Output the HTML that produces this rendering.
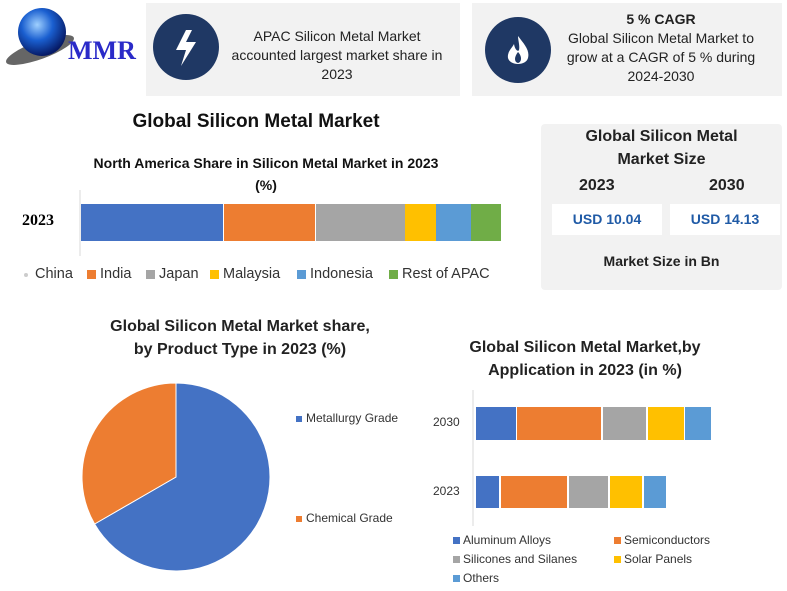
<!DOCTYPE html><html><head><style>
body{margin:0;width:787px;height:591px;background:#fff;font-family:"Liberation Sans",sans-serif;position:relative;overflow:hidden}
.a{position:absolute}
.c{text-align:center}
.b{font-weight:bold}
.lg{position:absolute;top:266px;font-size:14.5px;color:#333}
</style></head><body>
<svg class="a" style="left:0;top:0" width="787" height="591">
<defs><radialGradient id="g" cx="40%" cy="35%" r="65%"><stop offset="0" stop-color="#9fd0ff"/><stop offset=".5" stop-color="#1a5fd0"/><stop offset="1" stop-color="#061a66"/></radialGradient></defs>
<ellipse cx="40" cy="50" rx="36" ry="9" fill="#666" transform="rotate(-20 40 50)"/>
<circle cx="42" cy="32" r="24" fill="url(#g)"/>
<text x="68" y="59" font-family="Liberation Serif" font-weight="bold" font-size="26" fill="#2a2ac8">MMR</text>
<rect x="146" y="3" width="314" height="93" fill="#f2f2f2"/>
<rect x="472" y="3" width="310" height="93" fill="#f2f2f2"/>
<circle cx="186" cy="47" r="33" fill="#1f3864"/>
<path d="M186 30 L176 50 L186 50 L181 66 L196 42 L186 42 L192 30Z" fill="#fff"/>
<circle cx="518" cy="50" r="33" fill="#1f3864"/>
<path d="M518 36 C524 44 530 50 528 58 C526 66 510 66 508 58 C507 52 512 48 514 44 C515 50 518 52 519 50 C520 46 518 40 518 36Z" fill="#fff"/>
<path d="M518 52 C522 56 522 62 518 63 C514 62 514 57 518 52Z" fill="#1f3864"/>
<rect x="541" y="124" width="241" height="166" rx="4" fill="#f2f2f2"/>
<rect x="552" y="204" width="110" height="31" fill="#fff"/>
<rect x="670" y="204" width="110" height="31" fill="#fff"/>
<line x1="80" y1="190" x2="80" y2="256" stroke="#d9d9d9"/>
<rect x="81" y="204" width="142" height="37" fill="#4472c4"/>
<rect x="224" y="204" width="91" height="37" fill="#ed7d31"/>
<rect x="316" y="204" width="89" height="37" fill="#a5a5a5"/>
<rect x="405" y="204" width="31" height="37" fill="#ffc000"/>
<rect x="436" y="204" width="35" height="37" fill="#5b9bd5"/>
<rect x="471" y="204" width="30" height="37" fill="#70ad47"/>
<circle cx="26" cy="275" r="2" fill="#ccc"/>
<rect x="87" y="270" width="9" height="9" fill="#ed7d31"/>
<rect x="146" y="270" width="9" height="9" fill="#a5a5a5"/>
<rect x="210" y="270" width="9" height="9" fill="#ffc000"/>
<rect x="297" y="270" width="9" height="9" fill="#5b9bd5"/>
<rect x="389" y="270" width="9" height="9" fill="#70ad47"/>
<path d="M176 477 L176 383 A94 94 0 1 1 94.6 524 Z" fill="#4472c4" stroke="#fff"/>
<path d="M176 477 L94.6 524 A94 94 0 0 1 176 383 Z" fill="#ed7d31" stroke="#fff"/>
<rect x="296" y="416" width="6" height="6" fill="#4472c4"/>
<rect x="296" y="516" width="6" height="6" fill="#ed7d31"/>
<line x1="473" y1="390" x2="473" y2="526" stroke="#d9d9d9"/>
<rect x="476" y="407" width="40" height="33" fill="#4472c4"/>
<rect x="517" y="407" width="84" height="33" fill="#ed7d31"/>
<rect x="603" y="407" width="43" height="33" fill="#a5a5a5"/>
<rect x="648" y="407" width="36" height="33" fill="#ffc000"/>
<rect x="685" y="407" width="26" height="33" fill="#5b9bd5"/>
<rect x="476" y="476" width="23" height="32" fill="#4472c4"/>
<rect x="501" y="476" width="66" height="32" fill="#ed7d31"/>
<rect x="569" y="476" width="39" height="32" fill="#a5a5a5"/>
<rect x="610" y="476" width="32" height="32" fill="#ffc000"/>
<rect x="644" y="476" width="22" height="32" fill="#5b9bd5"/>
<rect x="453" y="537" width="7" height="7" fill="#4472c4"/>
<rect x="614" y="537" width="7" height="7" fill="#ed7d31"/>
<rect x="453" y="556" width="7" height="7" fill="#a5a5a5"/>
<rect x="614" y="556" width="7" height="7" fill="#ffc000"/>
<rect x="453" y="575" width="7" height="7" fill="#5b9bd5"/>
</svg>
<div class="a c" style="left:222px;top:27px;width:230px;font-size:14px;line-height:19px;color:#222">APAC Silicon Metal Market accounted largest market share in 2023</div>
<div class="a c" style="left:556px;top:10px;width:210px;font-size:14px;line-height:19px;color:#222"><b>5 % CAGR</b><br>Global Silicon Metal Market to grow at a CAGR of 5 % during 2024-2030</div>
<div class="a c b" style="left:100px;top:111px;width:312px;font-size:19px;color:#111">Global Silicon Metal Market</div>
<div class="a c b" style="left:66px;top:152px;width:400px;font-size:14px;line-height:22px;color:#111">North America Share in Silicon Metal Market in 2023<br>(%)</div>
<div class="a b" style="left:22px;top:212px;font-size:16px;font-family:'Liberation Serif',serif">2023</div>
<div class="lg" style="left:35px">China</div>
<div class="lg" style="left:100px">India</div>
<div class="lg" style="left:159px">Japan</div>
<div class="lg" style="left:223px">Malaysia</div>
<div class="lg" style="left:310px">Indonesia</div>
<div class="lg" style="left:402px">Rest of APAC</div>
<div class="a c b" style="left:541px;top:125px;width:241px;font-size:16px;line-height:23px;color:#222">Global Silicon Metal<br>Market Size</div>
<div class="a b" style="left:579px;top:177px;font-size:16px;color:#222">2023</div>
<div class="a b" style="left:709px;top:177px;font-size:16px;color:#222">2030</div>
<div class="a c b" style="left:552px;top:211px;width:110px;font-size:14px;color:#1f5aa6">USD 10.04</div>
<div class="a c b" style="left:670px;top:211px;width:110px;font-size:14px;color:#1f5aa6">USD 14.13</div>
<div class="a c b" style="left:541px;top:253px;width:241px;font-size:14px;color:#222">Market Size in Bn</div>
<div class="a c b" style="left:80px;top:315px;width:320px;font-size:16px;line-height:23px;color:#222">Global Silicon Metal Market share,<br>by Product Type in 2023  (%)</div>
<div class="a" style="left:306px;top:411px;font-size:12px;color:#333">Metallurgy Grade</div>
<div class="a" style="left:306px;top:511px;font-size:12px;color:#333">Chemical Grade</div>
<div class="a c b" style="left:440px;top:336px;width:290px;font-size:16px;line-height:23px;color:#222">Global Silicon Metal Market,by<br>Application in 2023 (in %)</div>
<div class="a" style="left:433px;top:415px;font-size:12px;color:#333">2030</div>
<div class="a" style="left:433px;top:484px;font-size:12px;color:#333">2023</div>
<div class="a" style="left:463px;top:533px;font-size:12px;color:#333">Aluminum Alloys</div>
<div class="a" style="left:624px;top:533px;font-size:12px;color:#333">Semiconductors</div>
<div class="a" style="left:463px;top:552px;font-size:12px;color:#333">Silicones and Silanes</div>
<div class="a" style="left:624px;top:552px;font-size:12px;color:#333">Solar Panels</div>
<div class="a" style="left:463px;top:571px;font-size:12px;color:#333">Others</div>
</body></html>
